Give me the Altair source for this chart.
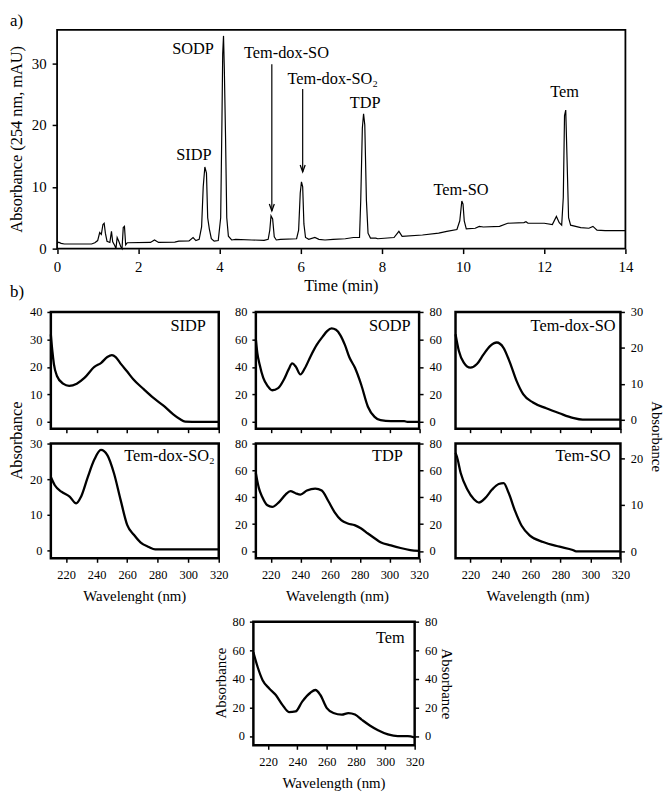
import altair as alt
import pandas as pd

SERIF = "'Liberation Serif', 'Times New Roman', Times, 'DejaVu Serif', serif"
W, H = 656, 777

# ---------------- chromatogram (a) ----------------
chrom_time = [0.00, 0.04, 0.10, 0.18, 0.85, 0.93, 1.00, 1.05, 1.09, 1.13, 1.16, 1.19, 1.23, 1.30,
              1.34, 1.37, 1.42, 1.45, 1.48, 1.52, 1.57, 1.60, 1.63, 1.66, 1.69, 1.73, 2.30, 2.40,
              2.50, 2.90, 3.00, 3.25, 3.35, 3.42, 3.50, 3.56, 3.60, 3.64, 3.68, 3.71, 3.75, 3.80,
              3.87, 3.97, 4.03, 4.06, 4.08, 4.10, 4.12, 4.15, 4.18, 4.22, 4.30, 4.40, 4.80, 5.10,
              5.20, 5.24, 5.27, 5.31, 5.35, 5.40, 5.50, 5.90, 5.95, 5.99, 6.02, 6.05, 6.08, 6.12,
              6.20, 6.35, 6.45, 6.60, 6.80, 7.10, 7.30, 7.45, 7.48, 7.52, 7.55, 7.58, 7.62, 7.66,
              7.72, 7.85, 7.90, 8.30, 8.42, 8.50, 9.00, 9.40, 9.60, 9.85, 9.92, 9.97, 10.00, 10.03,
              10.08, 10.30, 10.40, 10.50, 10.90, 11.10, 11.50, 11.55, 11.60, 12.00, 12.20, 12.30,
              12.37, 12.43, 12.47, 12.50, 12.53, 12.56, 12.60, 12.65, 12.90, 13.10, 13.20, 13.30,
              13.50, 14.00]
chrom_abs = [0.8, 1.05, 0.85, 0.75, 0.75, 0.95, 1.3, 2.6, 2.3, 3.9, 4.1, 2.5, 1.2, 1.0,
             2.8, 1.1, 0.5, 0.0, 1.8, 1.2, 0.3, 0.0, 3.4, 3.6, 0.6, 0.95, 1.0, 1.4,
             1.0, 1.05, 1.2, 1.25, 1.8, 1.3, 1.5, 3.5, 10.0, 13.2, 12.2, 5.0, 3.2, 1.6,
             1.2, 1.3, 5.0, 20.0, 31.5, 34.4, 29.0, 18.0, 5.0, 2.0, 1.4, 1.5, 1.4, 1.35,
             1.5, 3.0, 5.3, 4.8, 1.9, 1.4, 1.5, 1.6, 3.0, 9.0, 10.8, 10.0, 4.0, 1.8,
             1.5, 1.8, 1.5, 1.4, 1.5, 1.6, 1.8, 1.8, 7.8, 19.5, 21.8, 20.0, 7.8, 2.5,
             1.7, 1.7, 1.6, 1.8, 2.8, 2.0, 2.2, 2.5, 2.8, 3.1, 4.5, 7.7, 7.2, 4.5,
             3.2, 3.3, 3.6, 3.5, 3.6, 4.1, 4.2, 4.35, 4.1, 4.1, 3.9, 5.2,
             4.2, 3.8, 8.3, 21.5, 22.4, 15.0, 5.0, 3.8, 3.4, 3.3, 3.6, 3.0,
             2.9, 2.9]

peak_names = ["SIDP", "SODP", "Tem-dox-SO", "Tem-dox-SO\u2082", "TDP", "Tem-SO", "Tem"]
peak_label_t = [3.37, 3.35, 5.65, 6.79, 7.59, 9.95, 12.50]
peak_label_a = [15.1, 32.2, 31.7, 27.4, 23.5, 9.4, 25.4]

arrow_t = [5.29, 6.05]
arrow_top = [29.8, 25.8]
arrow_tip = [6.1, 12.4]

time_ticks = [0, 2, 4, 6, 8, 10, 12, 14]
abs_ticks = [0, 10, 20, 30]

# ---------------- UV spectra (b) ----------------
sidp_nm = [210, 211, 212, 214, 218, 222, 227, 232, 238.5, 243, 247, 250, 252.5, 256, 260, 264,
           271, 277, 284, 290, 294.5, 298, 307, 320]
sidp_ab = [31.8, 25.7, 21, 16.7, 13.9, 13.1, 13.9, 16, 20, 21.5, 23.6, 24.3, 23.6, 21, 18.3, 15.5,
           11.8, 8.8, 5.8, 2.8, 1, 0.1, 0, 0]

sodp_nm = [210, 211, 212.5, 215, 218, 221, 225, 229, 232, 234.5, 237, 240, 243, 247, 251, 255,
           258, 261, 264, 267, 270, 273, 276.7, 281, 285.5, 290, 294, 301, 310, 312, 320]
sodp_ab = [60, 50, 42, 32, 26, 23, 24.5, 31, 38, 42.5, 40, 34.5, 39, 48, 56, 62,
           66, 68, 67, 63, 56, 47, 39.5, 27, 11, 3.6, 1.2, 0.5, 0.5, 0, 0]

tdso_nm = [210, 212.2, 215.5, 219.9, 224.3, 228.7, 233, 237.5, 241.9, 246.3, 250.7, 255.1,
           261.7, 270.5, 279.3, 288.2, 294.8, 320]
tdso_ab = [23.8, 19.2, 15.9, 14.5, 15.5, 18.2, 20.5, 21.5, 20.1, 15.9, 10.8, 7.1,
           4.8, 3.2, 1.8, 0.5, 0, 0]

tdso2_nm = [210, 212.6, 216.9, 222.3, 226.6, 229.8, 234.2, 238.5, 242.8, 247.1, 251.4, 255.7,
            260, 264.4, 268.7, 274.1, 278.4, 320]
tdso2_ab = [20.6, 18.3, 16.5, 15.1, 13.2, 15.1, 20.6, 25.5, 28.2, 26.7, 21.6, 14.2,
            7.2, 4.4, 2.3, 1.0, 0.3, 0.3]

tdp_nm = [210, 211, 212, 214.4, 217.8, 221, 225.6, 230, 233.3, 236.7, 240, 244.4, 250, 254.4,
          258.9, 263, 267.5, 272, 276.5, 281, 285.5, 290, 294, 301, 307.5, 314, 320]
tdp_ab = [58, 52, 47, 40, 34, 32.8, 36.4, 42, 44.5, 43, 42, 45, 46.5, 45,
          37, 29, 23, 20.4, 19.2, 16.7, 13, 9.5, 6.5, 4.1, 2.2, 0.7, 0]

temso_nm = [210, 211, 213.5, 217.9, 222.3, 225.6, 229.9, 234.4, 238.8, 242.1, 245.4, 249.7,
            254.1, 259.6, 268.4, 279.4, 288.2, 290.4, 320]
temso_ab = [21.2, 20.3, 16.8, 13.3, 11.2, 10.5, 11.5, 13.3, 14.5, 14.7, 12.6, 8.7,
            5.5, 3.4, 2.0, 1.0, 0.3, 0, 0]

tem_nm = [210, 212.9, 216.3, 220.8, 225.3, 229.8, 234.3, 238.8, 243.3, 248.9, 252.3, 255.7,
          260.1, 264.6, 270.3, 274.8, 279.3, 283.8, 289.4, 295, 301.8, 308.5, 315.3, 320]
tem_ab = [58.6, 48.3, 39.1, 33.3, 28.7, 21.8, 16.8, 17.2, 24.1, 30.3, 32.2, 28.7,
          19.5, 16.1, 15, 16.1, 15, 11.5, 7.4, 4.1, 1.2, 0, 0, -1]

wl_ticks = [220, 240, 260, 280, 300, 320]

# panel layout (group pixel coords): x range, y range (bottom, top)
C1, C2, C3, CT = (41.3, 211.0), (248.5, 413.5), (450.3, 617.0), (246.0, 409.0)
R1, R2, R3 = (420.0, 302.0), (551.0, 435.0), (740.0, 615.0)

panels = [
    dict(name="SIDP", nm=sidp_nm, ab=sidp_ab, dom=[-2.5, 40], yt=[0, 10, 20, 30, 40],
         cx=C1, ry=R1, left=True, right=False, xlab=None, lab=(198, 316)),
    dict(name="SODP", nm=sodp_nm, ab=sodp_ab, dom=[-5, 80], yt=[0, 20, 40, 60, 80],
         cx=C2, ry=R1, left=True, right=True, xlab=None, lab=(405, 316)),
    dict(name="Tem-dox-SO", nm=tdso_nm, ab=tdso_ab, dom=[-2.5, 30], yt=[0, 10, 20, 30],
         cx=C3, ry=R1, left=False, right=True, xlab=None, lab=(612, 316)),
    dict(name="Tem-dox-SO\u2082", nm=tdso2_nm, ab=tdso2_ab, dom=[-2.2, 30], yt=[0, 10, 20, 30],
         cx=C1, ry=R2, left=True, right=False, xlab="Wavelenght (nm)", lab=(207, 448)),
    dict(name="TDP", nm=tdp_nm, ab=tdp_ab, dom=[-5.5, 80], yt=[0, 20, 40, 60, 80],
         cx=C2, ry=R2, left=True, right=True, xlab="Wavelength (nm)", lab=(397, 448)),
    dict(name="Tem-SO", nm=temso_nm, ab=temso_ab, dom=[-1.5, 23.2], yt=[0, 10, 20],
         cx=C3, ry=R2, left=False, right=True, xlab="Wavelength (nm)", lab=(607, 448)),
    dict(name="Tem", nm=tem_nm, ab=tem_ab, dom=[-6.5, 80], yt=[0, 20, 40, 60, 80],
         cx=CT, ry=R3, left=True, right=True, xlab="Wavelength (nm)", lab=(399, 632)),
]

one = pd.DataFrame({"k": [0]})


def sc(domain, rng):
    return alt.Scale(domain=domain, range=list(rng), nice=False, zero=False)


def axis(orient, offset, values, labels=True, size=12.5, pad=5, tick=4):
    return alt.Axis(orient=orient, offset=offset, values=values, title=None, grid=False,
                    domain=False, ticks=True, tickSize=tick, tickWidth=1.5, tickColor="black",
                    labels=labels, labelFont=SERIF, labelFontSize=size, labelColor="black",
                    labelPadding=pad, labelFlush=False, labelOverlap=False)


def text_at(txt, x, y, size=16, angle=0, align="center", baseline="middle"):
    return alt.Chart(one).mark_text(font=SERIF, fontSize=size, angle=angle, align=align,
                                    baseline=baseline, color="black").encode(
        x=alt.value(x), y=alt.value(y), text=alt.value(txt))


def frame(x0, x1, y0, y1, sw):
    return alt.Chart(one).mark_rect(fillOpacity=0, stroke="black", strokeWidth=sw).encode(
        x=alt.value(x0), x2=alt.value(x1), y=alt.value(y0), y2=alt.value(y1))


layers = []

# ---- chromatogram ----
CH_X = (47.6, 622.0)
CH_Y = (238.0, 17.0)
ch_xdom = [0, 14]
ch_ydom = [0, 35.36]

chrom_df = pd.DataFrame({"t": chrom_time, "a": chrom_abs})
layers.append(frame(CH_X[0], CH_X[1], CH_Y[1], CH_Y[0], 1.8))
layers.append(
    alt.Chart(chrom_df).mark_line(color="black", strokeWidth=1.2).encode(
        x=alt.X("t:Q", scale=sc(ch_xdom, CH_X),
                axis=axis("bottom", CH_Y[0] - H, time_ticks, size=15, pad=6, tick=5)),
        y=alt.Y("a:Q", scale=sc(ch_ydom, CH_Y),
                axis=axis("left", -CH_X[0], abs_ticks, size=15, pad=6, tick=5)),
    )
)
lab_df = pd.DataFrame({"t": peak_label_t, "a": peak_label_a, "name": peak_names})
layers.append(
    alt.Chart(lab_df).mark_text(font=SERIF, fontSize=16.5, color="black", baseline="middle").encode(
        x=alt.X("t:Q", scale=sc(ch_xdom, CH_X), axis=None),
        y=alt.Y("a:Q", scale=sc(ch_ydom, CH_Y), axis=None),
        text="name:N",
    )
)
arr_df = pd.DataFrame({"t": arrow_t, "top": arrow_top, "tip": arrow_tip})
layers.append(
    alt.Chart(arr_df).mark_rule(color="black", strokeWidth=1.2).encode(
        x=alt.X("t:Q", scale=sc(ch_xdom, CH_X), axis=None),
        y=alt.Y("top:Q", scale=sc(ch_ydom, CH_Y), axis=None),
        y2="tip:Q",
    )
)
layers.append(
    alt.Chart(arr_df).mark_point(shape="M -1 -2.8 L 0 0 L 1 -2.8", size=25, filled=False,
                                 color="black", strokeWidth=1.3, opacity=1).encode(
        x=alt.X("t:Q", scale=sc(ch_xdom, CH_X), axis=None),
        y=alt.Y("tip:Q", scale=sc(ch_ydom, CH_Y), axis=None),
    )
)
layers.append(text_at("a)", 0, 0, size=17, align="left", baseline="top"))
layers.append(text_at("Absorbance (254 nm, mAU)", 7, 127.5, size=16.5, angle=270))
layers.append(text_at("Time (min)", (CH_X[0] + CH_X[1]) / 2, 276, size=16.5))
layers.append(text_at("b)", 0, 282, size=17, align="left"))

# ---- spectra panels ----
for p in panels:
    df = pd.DataFrame({"nm": p["nm"], "ab": p["ab"]})
    xs = sc([210, 320], p["cx"])
    ys = sc(p["dom"], p["ry"])
    xax = axis("bottom", p["ry"][0] - H, wl_ticks, labels=p["xlab"] is not None, pad=6)
    if p["left"]:
        yax = axis("left", -p["cx"][0], p["yt"])
    else:
        yax = axis("right", p["cx"][1] - W, p["yt"], pad=6)
    layers.append(frame(p["cx"][0], p["cx"][1], p["ry"][1], p["ry"][0], 2.5))
    layers.append(
        alt.Chart(df).mark_line(color="black", strokeWidth=2.3, interpolate="monotone").encode(
            x=alt.X("nm:Q", scale=xs, axis=xax),
            y=alt.Y("ab:Q", scale=ys, axis=yax),
        )
    )
    if p["left"] and p["right"]:
        layers.append(
            alt.Chart(df).mark_line(strokeOpacity=0).encode(
                x=alt.X("nm:Q", scale=sc([210, 320], p["cx"]), axis=None),
                y=alt.Y("ab:Q", scale=sc(p["dom"], p["ry"]),
                        axis=axis("right", p["cx"][1] - W, p["yt"], pad=6)),
            )
        )
    layers.append(text_at(p["name"], p["lab"][0], p["lab"][1], size=16.5, align="right"))
    if p["xlab"]:
        layers.append(text_at(p["xlab"], (p["cx"][0] + p["cx"][1]) / 2, p["ry"][0] + 38, size=15))

layers.append(text_at("Absorbance", 7, 432, size=16.5, angle=270))
layers.append(text_at("Absorbance", 654, 428, size=15, angle=90))
layers.append(text_at("Absorbance", 213, 677, size=15, angle=270))
layers.append(text_at("Absorbance", 442, 678, size=15, angle=90))

chart = (
    alt.layer(*layers)
    .resolve_scale(x="independent", y="independent")
    .properties(width=W, height=H, padding=0)
    .configure_view(stroke=None)
)

chart.save("out.html", embed_options={"renderer": "svg", "actions": False})
